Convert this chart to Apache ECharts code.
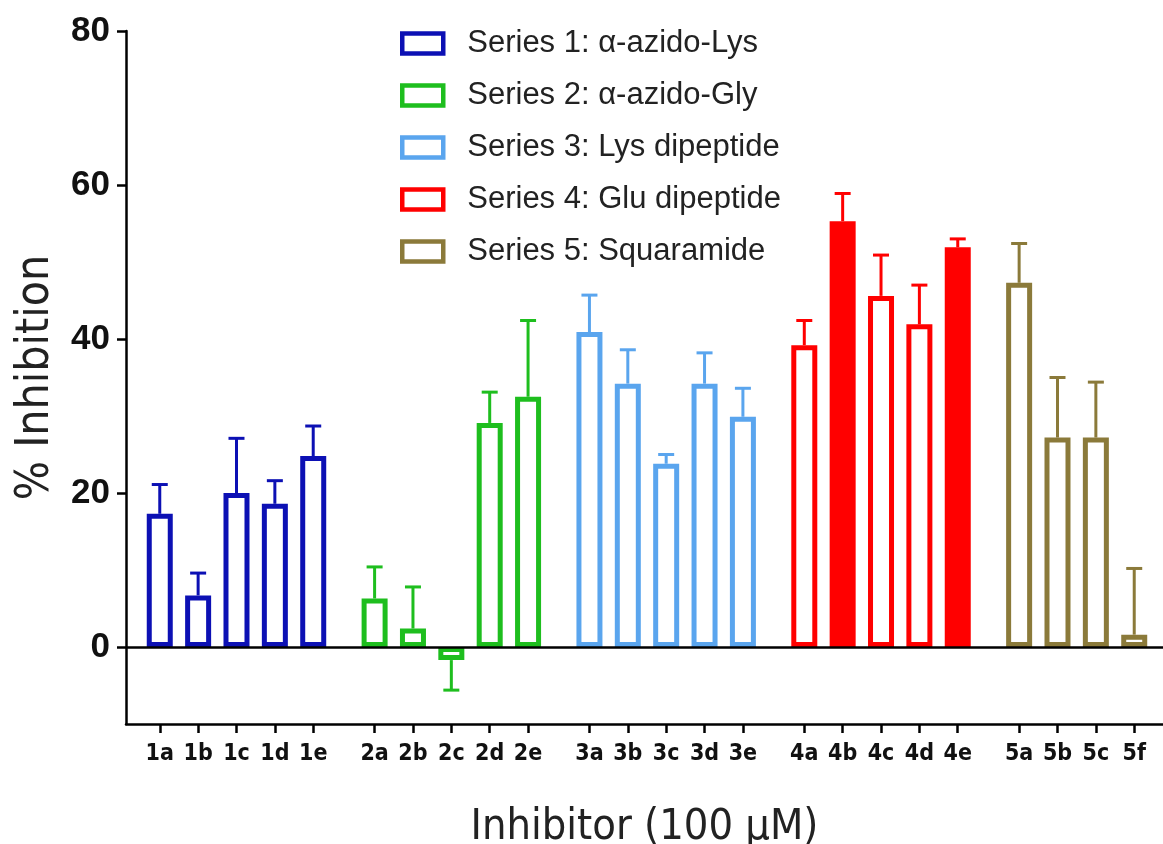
<!DOCTYPE html>
<html>
<head>
<meta charset="utf-8">
<script src="https://cdn.jsdelivr.net/npm/echarts@6/dist/echarts.min.js"></script>
<style>
html,body{margin:0;padding:0;background:#fff;}
#chart{width:1163px;height:844px;}
</style>
</head>
<body>
<div id="chart"></div>
<script>
// ---- data ----
const seriesNames = [
  'Series 1: \u03b1-azido-Lys',
  'Series 2: \u03b1-azido-Gly',
  'Series 3: Lys dipeptide',
  'Series 4: Glu dipeptide',
  'Series 5: Squaramide'
];
const labels1 = ['1a', '1b', '1c', '1d', '1e'];
const labels2 = ['2a', '2b', '2c', '2d', '2e'];
const labels3 = ['3a', '3b', '3c', '3d', '3e'];
const labels4 = ['4a', '4b', '4c', '4d', '4e'];
const labels5 = ['5a', '5b', '5c', '5f'];

const values1 = [17.3, 6.7, 20.0, 18.6, 24.8];
const errors1 = [3.8, 2.9, 7.1, 3.0, 3.9];
const values2 = [6.3, 2.4, -1.7, 29.1, 32.5];
const errors2 = [4.1, 5.4, 3.9, 4.0, 9.9];
const values3 = [40.9, 34.2, 23.8, 34.2, 29.9];
const errors3 = [4.8, 4.4, 1.2, 4.0, 3.7];
const values4 = [39.2, 55.3, 45.6, 41.9, 51.9];
const errors4 = [3.2, 3.6, 5.3, 5.1, 1.1];
const values5 = [47.3, 27.2, 27.2, 1.6];
const errors5 = [5.1, 7.8, 7.2, 8.6];

const filledBars = ['4b', '4e'];
const yTickValues = [0, 20, 40, 60, 80];

// ---- styling / layout ----
const colors = ['#0c10b4', '#1ebe1e', '#5aa5ee', '#ff0000', '#8b7a3a'];
const groupLabels = [labels1, labels2, labels3, labels4, labels5];
const groupValues = [values1, values2, values3, values4, values5];
const groupErrors = [errors1, errors2, errors3, errors4, errors5];
const groupStep = 5.6; // 4 in-group steps + wider gap between groups

const allPos = [];
const posToLabel = {};
groupLabels.forEach((labs, g) => {
  labs.forEach((l, i) => {
    const p = +(g * groupStep + i).toFixed(2);
    allPos.push(p);
    posToLabel[p] = l;
  });
});

const narrow = "'DejaVu Sans Condensed', 'Liberation Sans', sans-serif";
const sans = "'Liberation Sans', Arial, sans-serif";

const barSeries = [];
const errSeries = [];
groupLabels.forEach((labs, g) => {
  const barData = labs.map((l, i) => {
    const item = { value: [+(g * groupStep + i).toFixed(2), groupValues[g][i]] };
    if (filledBars.indexOf(l) >= 0) item.itemStyle = { color: colors[g] };
    return item;
  });
  const errData = labs.map((l, i) => [+(g * groupStep + i).toFixed(2), groupValues[g][i], groupErrors[g][i]]);
  const bar = {
    name: seriesNames[g],
    type: 'bar',
    z: 2,
    barWidth: 26,
    barGap: '-100%',
    itemStyle: { color: '#ffffff', borderColor: colors[g], borderWidth: 5 },
    emphasis: { disabled: true },
    data: barData
  };
  if (g === 0) {
    bar.markLine = {
      silent: true,
      symbol: ['none', 'none'],
      label: { show: false },
      lineStyle: { color: '#000', width: 2.5, type: 'solid' },
      data: [{ yAxis: 0 }],
      z: 5
    };
  }
  barSeries.push(bar);
  errSeries.push({
    name: seriesNames[g] + ' error',
    type: 'custom',
    z: 1,
    silent: true,
    data: errData,
    encode: { x: 0, y: 1 },
    renderItem: function (params, api) {
      const x = api.value(0), v = api.value(1), e = api.value(2);
      const end = v >= 0 ? v + e : v - e;
      const p0 = api.coord([x, v]);
      const p1 = api.coord([x, end]);
      const style = { stroke: colors[g], lineWidth: 3 };
      return {
        type: 'group',
        children: [
          { type: 'line', shape: { x1: p0[0], y1: p0[1], x2: p1[0], y2: p1[1] }, style: style },
          { type: 'line', shape: { x1: p1[0] - 8, y1: p1[1], x2: p1[0] + 8, y2: p1[1] }, style: style }
        ]
      };
    }
  });
});

const chart = echarts.init(document.getElementById('chart'), null, { renderer: 'canvas' });
chart.setOption({
  backgroundColor: '#ffffff',
  animation: false,
  color: colors,
  grid: { left: 126, right: 0, top: 31, bottom: 120, containLabel: false, outerBoundsMode: 'none' },
  legend: {
    data: seriesNames,
    orient: 'vertical',
    left: 400,
    top: 28,
    padding: 0,
    itemWidth: 41,
    itemHeight: 20,
    itemGap: 21,
    icon: 'rect',
    itemStyle: { color: '#ffffff', borderWidth: 4.5 },
    textStyle: { fontSize: 31, color: '#222', fontFamily: sans, padding: [0, 0, 0, 19] },
    selectedMode: false
  },
  xAxis: {
    type: 'value',
    min: -0.88,
    max: 26.15,
    name: 'Inhibitor (100 \u03bcM)',
    nameLocation: 'middle',
    nameGap: 82,
    nameTextStyle: { fontSize: 43, color: '#222', fontFamily: narrow },
    splitLine: { show: false },
    axisLine: { show: true, onZero: false, lineStyle: { color: '#000', width: 2.5 } },
    axisTick: { show: true, length: 9, customValues: allPos, lineStyle: { color: '#000', width: 2.5 } },
    axisLabel: {
      customValues: allPos,
      margin: 19,
      fontSize: 23,
      fontWeight: 'bold',
      color: '#111',
      fontFamily: narrow,
      formatter: function (v) { return posToLabel[+v.toFixed(2)] || ''; }
    }
  },
  yAxis: {
    type: 'value',
    min: -10,
    max: 80,
    name: '% Inhibition',
    nameLocation: 'middle',
    nameGap: 67,
    nameRotate: 90,
    nameTextStyle: { fontSize: 46, color: '#222', fontFamily: narrow },
    splitLine: { show: false },
    axisLine: { show: true, onZero: false, lineStyle: { color: '#000', width: 2.5 } },
    axisTick: { show: true, length: 9, customValues: yTickValues, lineStyle: { color: '#000', width: 2.5 } },
    axisLabel: {
      customValues: yTickValues,
      margin: 16,
      fontSize: 35,
      fontWeight: 'bold',
      color: '#111',
      fontFamily: sans
    }
  },
  series: barSeries.concat(errSeries)
});
</script>
</body>
</html>
